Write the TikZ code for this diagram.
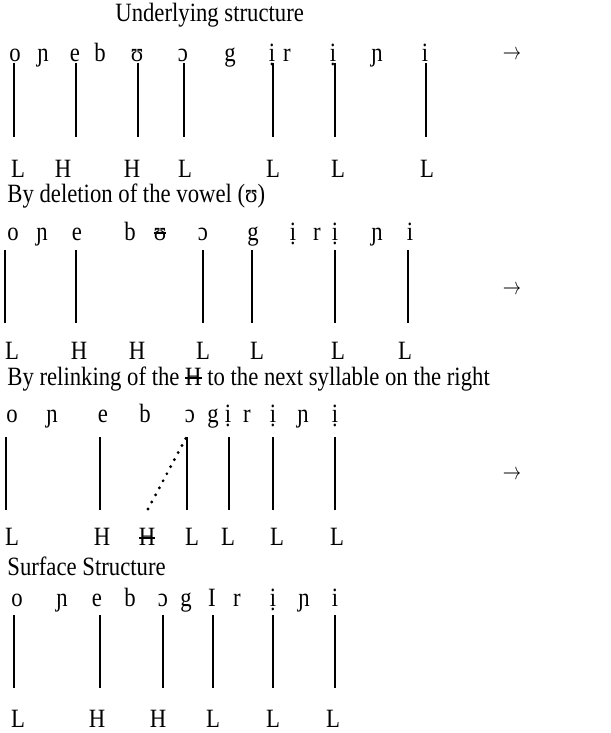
\documentclass[tikz,border=0pt]{standalone}
\usepackage{fontspec}
\setmainfont{Liberation Serif}[FakeStretch=0.86]
\usepackage{tikz}
\usetikzlibrary{positioning}
\newcommand{\glossfont}{\fontsize{13.2}{15.8}\selectfont}
\newcommand{\strk}[1]{\setbox0=\hbox{#1}\rlap{#1}\rule[0.24em]{\wd0}{0.05em}}
\newcommand{\nextarrow}{\scalebox{0.76}[1]{$\rightarrow$}}

\begin{document}
\begin{tikzpicture}[
    x=0.5pt, y=-0.5pt,
    every node/.style={inner sep=0pt, font=\glossfont},
    seg/.style={anchor=base},
    tone/.style={anchor=base},
    rowtitle/.style={anchor=base west, text height=0.69em, text depth=0.22em},
    assoc/.style={line width=0.6pt},
    relink/.style={line width=1.6pt, line cap=round, dash pattern=on 0pt off 4pt},
  ]
  \useasboundingbox (0,0) rectangle (610,733);

  % underlying structure
  \node[rowtitle] (t1) at (115,22) {Underlying structure};
  \node[seg] (u1) at (15,62) {o};
  \node[seg] (u2) at (43,62) {ɲ};
  \node[seg] (u3) at (75,62) {e};
  \node[seg] (u4) at (100,62) {b};
  \node[seg] (u5) at (137,62) {ʊ};
  \node[seg] (u6) at (183,62) {ɔ};
  \node[seg] (u7) at (230,62) {g};
  \node[seg] (u8) at (272,62) {ị};
  \node[seg] (u9) at (287,62) {r};
  \node[seg] (u10) at (333,62) {ị};
  \node[seg] (u11) at (377,62) {ɲ};
  \node[seg] (u12) at (425,62) {i};
  \node[anchor=center] (next1) at (512,55) {\nextarrow};
  \node[tone] (ut1) at (18,177) {L};
  \node[tone] (ut2) at (63,177) {H};
  \node[tone] (ut3) at (132,177) {H};
  \node[tone] (ut4) at (185,177) {L};
  \node[tone] (ut5) at (273,177) {L};
  \node[tone] (ut6) at (338,177) {L};
  \node[tone] (ut7) at (427,177) {L};
  \foreach \x [count=\i] in {14,76,138,184,273,335,426} {
    \coordinate (ua\i) at (\x,63);
    \coordinate (ub\i) at (\x,137);
    \draw[assoc] (ua\i) -- (ub\i);
  }

  % deletion of the vowel
  \node[rowtitle] (t2) at (7,202) {By deletion of the vowel (ʊ)};
  \node[seg] (d1) at (13,240) {o};
  \node[seg] (d2) at (42,240) {ɲ};
  \node[seg] (d3) at (77,240) {e};
  \node[seg] (d4) at (130,240) {b};
  \node[seg] (d5) at (160,240) {\strk{ʊ}};
  \node[seg] (d6) at (203,240) {ɔ};
  \node[seg] (d7) at (253,240) {g};
  \node[seg] (d8) at (293,240) {ị};
  \node[seg] (d9) at (317,240) {r};
  \node[seg] (d10) at (335,240) {ị};
  \node[seg] (d11) at (377,240) {ɲ};
  \node[seg] (d12) at (410,240) {i};
  \node[anchor=center] (next2) at (512,290) {\nextarrow};
  \node[tone] (dt1) at (12,359) {L};
  \node[tone] (dt2) at (79,359) {H};
  \node[tone] (dt3) at (137,359) {H};
  \node[tone] (dt4) at (203,359) {L};
  \node[tone] (dt5) at (257,359) {L};
  \node[tone] (dt6) at (338,359) {L};
  \node[tone] (dt7) at (405,359) {L};
  \foreach \x [count=\i] in {5,76,203,252,335,408} {
    \coordinate (da\i) at (\x,250);
    \coordinate (db\i) at (\x,323);
    \draw[assoc] (da\i) -- (db\i);
  }

  % relinking of the H
  \node[rowtitle] (t3) at (7,385) {By relinking of the \strk{H} to the next syllable on the right};
  \node[seg] (r1) at (12,422) {o};
  \node[seg] (r2) at (52,422) {ɲ};
  \node[seg] (r3) at (103,422) {e};
  \node[seg] (r4) at (145,422) {b};
  \node[seg] (r5) at (190,422) {ɔ};
  \node[seg] (r6) at (213,422) {g};
  \node[seg] (r7) at (228,422) {ị};
  \node[seg] (r8) at (247,422) {r};
  \node[seg] (r9) at (273,422) {ị};
  \node[seg] (r10) at (303,422) {ɲ};
  \node[seg] (r11) at (335,422) {ị};
  \node[anchor=center] (next3) at (512,475) {\nextarrow};
  \node[tone] (rt1) at (12,545) {L};
  \node[tone] (rt2) at (102,545) {H};
  \node[tone] (rt3) at (147,545) {\strk{H}};
  \node[tone] (rt4) at (192,545) {L};
  \node[tone] (rt5) at (228,545) {L};
  \node[tone] (rt6) at (277,545) {L};
  \node[tone] (rt7) at (337,545) {L};
  \foreach \x [count=\i] in {6,100,187,229,273,335} {
    \coordinate (ra\i) at (\x,437);
    \coordinate (rb\i) at (\x,510);
    \draw[assoc] (ra\i) -- (rb\i);
  }
  \coordinate (hfoot) at (148,509);
  \coordinate (htop) at (186,438);
  \draw[relink] (hfoot) -- (htop);

  % surface structure
  \node[rowtitle] (t4) at (7,575) {Surface Structure};
  \node[seg] (s1) at (17,606) {o};
  \node[seg] (s2) at (62,606) {ɲ};
  \node[seg] (s3) at (97,606) {e};
  \node[seg] (s4) at (130,606) {b};
  \node[seg] (s5) at (163,606) {ɔ};
  \node[seg] (s6) at (186,606) {g};
  \node[seg] (s7) at (212,606) {I};
  \node[seg] (s8) at (237,606) {r};
  \node[seg] (s9) at (273,606) {ị};
  \node[seg] (s10) at (304,606) {ɲ};
  \node[seg] (s11) at (335,606) {i};
  \node[tone] (st1) at (18,727) {L};
  \node[tone] (st2) at (97,727) {H};
  \node[tone] (st3) at (158,727) {H};
  \node[tone] (st4) at (213,727) {L};
  \node[tone] (st5) at (273,727) {L};
  \node[tone] (st6) at (333,727) {L};
  \foreach \x [count=\i] in {14,100,163,213,273,335} {
    \coordinate (sa\i) at (\x,615);
    \coordinate (sb\i) at (\x,688);
    \draw[assoc] (sa\i) -- (sb\i);
  }
\end{tikzpicture}
\end{document}
